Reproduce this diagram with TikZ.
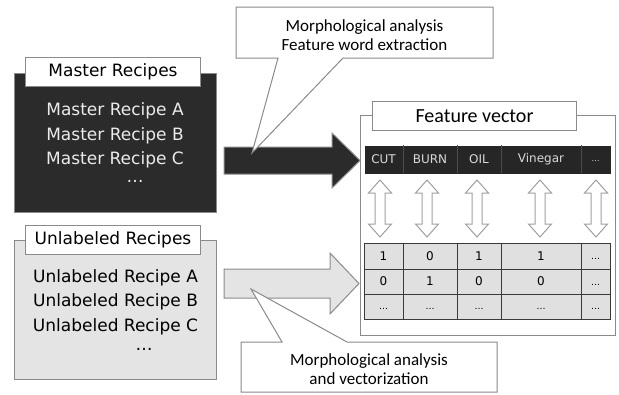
\documentclass[tikz,border=0pt]{standalone}
\usepackage{fontspec}
\newfontfamily\dvfont{DejaVu Sans}
\newfontfamily\carfont{Carlito}
\definecolor{bordergray}{HTML}{8A8A8A}
\definecolor{darkfill}{HTML}{2B2B2B}
\definecolor{lightfill}{HTML}{E4E4E4}
\definecolor{headfill}{HTML}{262626}
\definecolor{cellfill}{HTML}{E0E0E0}
\definecolor{linegray}{HTML}{3A3A3A}
\definecolor{arrowgray}{HTML}{A0A0A0}
\begin{document}
\begin{tikzpicture}[x=1pt,y=-1pt,
  panel/.style={draw=bordergray, line width=1pt, anchor=north west, inner sep=0pt},
  titlebox/.style={panel, fill=white, font=\dvfont\fontsize{17}{20}\selectfont},
  recipe/.style={font=\dvfont\fontsize{17}{20}\selectfont, inner sep=0pt},
  calloutshape/.style={draw=bordergray, line width=1pt, fill=white, line join=miter},
  callouttext/.style={font=\carfont\fontsize{17}{19.5}\selectfont, align=center, inner sep=0pt},
  blockarrow/.style={draw=bordergray, line width=1pt, line join=miter},
  dblarrow/.style={draw=arrowgray, line width=1pt, fill=white, line join=miter},
  headtext/.style={font=\dvfont\fontsize{12}{14}\selectfont, text=white!85!black, inner sep=0pt},
  celltext/.style={font=\dvfont\fontsize{12}{14}\selectfont, inner sep=0pt},
  dotstext/.style={font=\dvfont\fontsize{9}{10}\selectfont, inner sep=0pt}
]
\useasboundingbox (0,0) rectangle (619,394);

% ---------- Master recipes ----------
\node[panel, fill=darkfill, minimum width=202pt, minimum height=139pt] (master) at (14,73) {};
\node[titlebox, minimum width=175pt, minimum height=29pt] (mastertitle) at (25,57) {Master Recipes};
\node[recipe, text=white!92!black] (ma) at (115,111) {Master Recipe A};
\node[recipe, text=white!92!black] (mb) at (115,136) {Master Recipe B};
\node[recipe, text=white!92!black] (mc) at (115,160) {Master Recipe C};
\node[recipe, text=white!92!black] (md) at (135,181) {…};

% ---------- Unlabeled recipes ----------
\node[panel, fill=lightfill, minimum width=202pt, minimum height=139pt] (unlab) at (14,240) {};
\node[titlebox, minimum width=175pt, minimum height=29pt] (unlabtitle) at (25,225) {Unlabeled Recipes};
\node[recipe, text=black] (ua) at (115.5,278) {Unlabeled Recipe A};
\node[recipe, text=black] (ub) at (115.5,302) {Unlabeled Recipe B};
\node[recipe, text=black] (uc) at (115.5,327) {Unlabeled Recipe C};
\node[recipe, text=black] (ud) at (144,349) {…};

% ---------- Feature vector panel ----------
\node[panel, fill=white, minimum width=255pt, minimum height=220pt] (fv) at (360,115) {};
\node[panel, fill=white, minimum width=204pt, minimum height=29pt,
      font=\carfont\fontsize{20}{24}\selectfont] (fvtitle) at (372,101) {Feature vector};

% header bar
\node[panel, draw=none, fill=headfill, minimum width=246pt, minimum height=28pt] (header) at (364,145) {};
\foreach \cx in {403,457,501,581}
  \draw[white!30!black, line width=0.8pt] (\cx,145) -- (\cx,173);
\node[headtext] (hcut) at (383.5,159) {CUT};
\node[headtext] (hburn) at (430,159) {BURN};
\node[headtext] (hoil) at (479,159) {OIL};
\node[headtext] (hvin) at (541,159) {Vinegar};
\node[headtext, font=\dvfont\fontsize{8}{10}\selectfont] (hdots) at (595.5,161) {…};

% double arrows
\foreach \cx in {380,427,477,540,596}
  \draw[dblarrow] (\cx,180) -- (\cx+11.5,193) -- (\cx+5,193) -- (\cx+5,224) -- (\cx+11.5,224)
     -- (\cx,237) -- (\cx-11.5,224) -- (\cx-5,224) -- (\cx-5,193) -- (\cx-11.5,193) -- cycle;

% table
\node[panel, draw=linegray, fill=cellfill, minimum width=246pt, minimum height=76pt] (table) at (364,243) {};
\foreach \ry in {269,294}
  \draw[linegray, line width=0.8pt] (364,\ry) -- (610,\ry);
\foreach \cx in {403,457,501,581}
  \draw[linegray, line width=0.8pt] (\cx,243) -- (\cx,319);
\node[celltext] (c11) at (383.5,256) {1};
\node[celltext] (c12) at (430,256) {0};
\node[celltext] (c13) at (479,256) {1};
\node[celltext] (c14) at (541,256) {1};
\node[dotstext] (c15) at (595.5,259) {…};
\node[celltext] (c21) at (383.5,281.5) {0};
\node[celltext] (c22) at (430,281.5) {1};
\node[celltext] (c23) at (479,281.5) {0};
\node[celltext] (c24) at (541,281.5) {0};
\node[dotstext] (c25) at (595.5,284.5) {…};
\node[dotstext] (c31) at (383.5,309) {…};
\node[dotstext] (c32) at (430,309) {…};
\node[dotstext] (c33) at (479,309) {…};
\node[dotstext] (c34) at (541,309) {…};
\node[dotstext] (c35) at (595.5,309) {…};

% ---------- block arrows ----------
\draw[blockarrow, fill=darkfill] (224,147) -- (332,147) -- (332,133) -- (360,160.5)
   -- (332,188) -- (332,174) -- (224,174) -- cycle;
\draw[blockarrow, fill=lightfill] (224,269) -- (330,269) -- (330,253) -- (359,283.5)
   -- (330,314) -- (330,298) -- (224,298) -- cycle;

% ---------- callouts ----------
\draw[calloutshape] (236,7) -- (493,7) -- (493,58) -- (343,58) -- (252,153) -- (278,58) -- (236,58) -- cycle;
\node[callouttext] (topcall) at (364.5,35) {Morphological analysis\\Feature word extraction};

\draw[calloutshape] (241,342) -- (282,342) -- (251,289) -- (347,342) -- (497,342) -- (497,392) -- (241,392) -- cycle;
\node[callouttext] (botcall) at (369,369) {Morphological analysis\\and vectorization};

\end{tikzpicture}
\end{document}
